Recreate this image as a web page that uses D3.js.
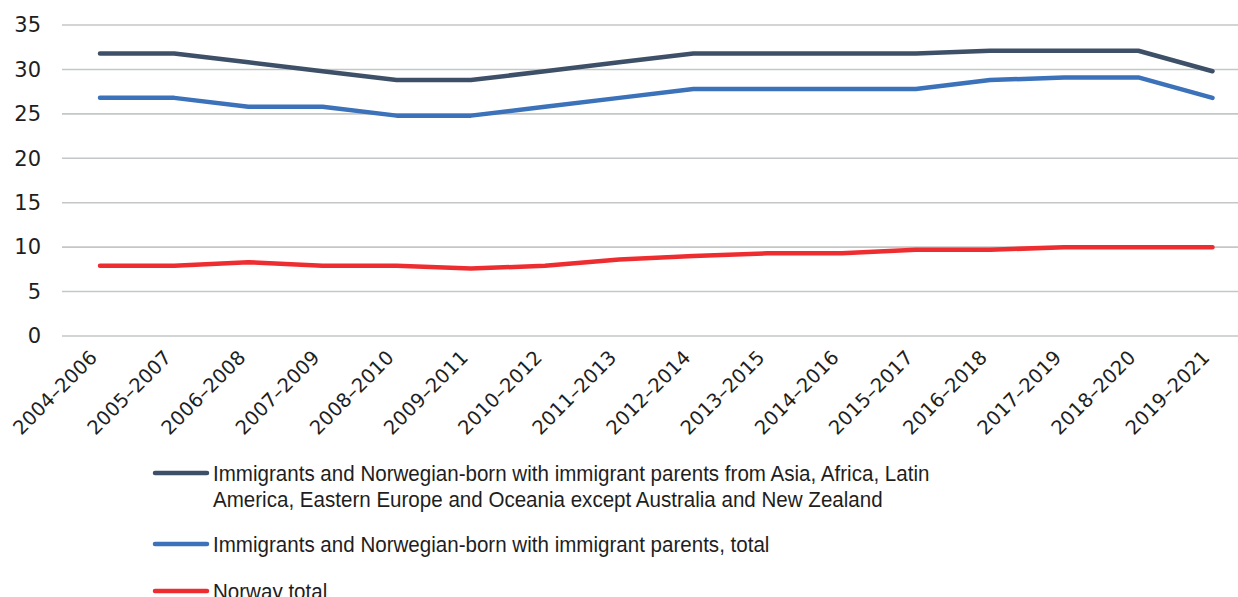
<!DOCTYPE html>
<html><head><meta charset="utf-8">
<script src="https://cdn.jsdelivr.net/npm/d3@7"></script>
<style>body{margin:0;background:#fff;} svg{display:block;}</style>
</head><body>
<svg id="chart" width="1238" height="597"></svg>
<script>
const categories = ["2004–2006","2005–2007","2006–2008","2007–2009","2008–2010","2009–2011","2010–2012","2011–2013","2012–2014","2013–2015","2014–2016","2015–2017","2016–2018","2017–2019","2018–2020","2019–2021"];
const asiaAfrica = [31.8,31.8,30.8,29.8,28.8,28.8,29.8,30.8,31.8,31.8,31.8,31.8,32.1,32.1,32.1,29.8];
const immigrantsTotal = [26.8,26.8,25.8,25.8,24.8,24.8,25.8,26.8,27.8,27.8,27.8,27.8,28.8,29.1,29.1,26.8];
const norwayTotal = [7.9,7.9,8.3,7.9,7.9,7.6,7.9,8.6,9.0,9.3,9.3,9.7,9.7,10.0,10.0,10.0];
const yTicks = [0,5,10,15,20,25,30,35];
const seriesNames = [
  ["Immigrants and Norwegian-born with immigrant parents from Asia, Africa, Latin","America, Eastern Europe and Oceania except Australia and New Zealand"],
  ["Immigrants and Norwegian-born with immigrant parents, total"],
  ["Norway total"]
];
const seriesColors = ["#3e5068","#3b72ba","#ee2d31"];

const svg = d3.select("#chart");
const x = d3.scalePoint().domain(categories).range([100, 1212.5]);
const y = d3.scaleLinear().domain([0,35]).range([336, 25]);

// gridlines
svg.append("g").selectAll("line").data(yTicks).join("line")
  .attr("x1",62).attr("x2",1238)
  .attr("y1",d=>y(d)).attr("y2",d=>y(d))
  .attr("stroke","#c4c7c7").attr("stroke-width",1.6);

// y axis labels
const yAxis = d3.axisLeft(y).tickValues(yTicks).tickSize(0).tickPadding(0);
const gy = svg.append("g").attr("transform","translate(41,0)").call(yAxis);
gy.select(".domain").remove();
gy.selectAll("text").attr("font-family","DejaVu Sans, Verdana, sans-serif")
  .attr("font-size","21px").attr("fill","#1e1e1e");

// x axis labels
const xAxis = d3.axisBottom(x).tickSize(0).tickPadding(0);
const gx = svg.append("g").attr("transform","translate(0,336)").call(xAxis);
gx.select(".domain").remove();
gx.selectAll("text")
  .attr("font-family","DejaVu Sans, Verdana, sans-serif")
  .attr("font-size","19.5px").attr("fill","#1e1e1e")
  .attr("text-anchor","end")
  .attr("y",0).attr("dy","0.35em")
  .attr("transform","translate(-7,18) rotate(-45)");

// lines
const data = [asiaAfrica, immigrantsTotal, norwayTotal];
const line = d3.line().x((d,i)=>x(categories[i])).y(d=>y(d));
svg.append("g").selectAll("path").data(data).join("path")
  .attr("d",line).attr("fill","none")
  .attr("stroke",(d,i)=>seriesColors[i]).attr("stroke-width",4.5)
  .attr("stroke-linecap","round").attr("stroke-linejoin","round");

// legend
const legendY = [473, 544, 591];
const lg = svg.append("g");
const legendTexts = [];
seriesNames.forEach((lines,i)=>{
  const g = lg.append("g");
  g.append("line").attr("x1",155).attr("x2",207).attr("y1",legendY[i]).attr("y2",legendY[i])
    .attr("stroke",seriesColors[i]).attr("stroke-width",4.5).attr("stroke-linecap","round");
  lines.forEach((t,j)=>{
    const tx = g.append("text").attr("x",0).attr("y",0)
      .attr("transform",`translate(213,${legendY[i]+8+j*26})`)
      .attr("font-family","Liberation Sans Narrow, Arial Narrow, Liberation Sans, sans-serif")
      .attr("font-size","22px").attr("fill","#1e1e1e").text(t);
    legendTexts.push(tx);
  });
});
// condense the legend font horizontally so the first line spans like the reference
const w0 = legendTexts[0].node().getComputedTextLength();
const sx = Math.min(1, 717 / w0);
legendTexts.forEach(tx=>{
  tx.attr("transform", tx.attr("transform") + ` scale(${sx},1)`);
});
</script>
</body></html>
